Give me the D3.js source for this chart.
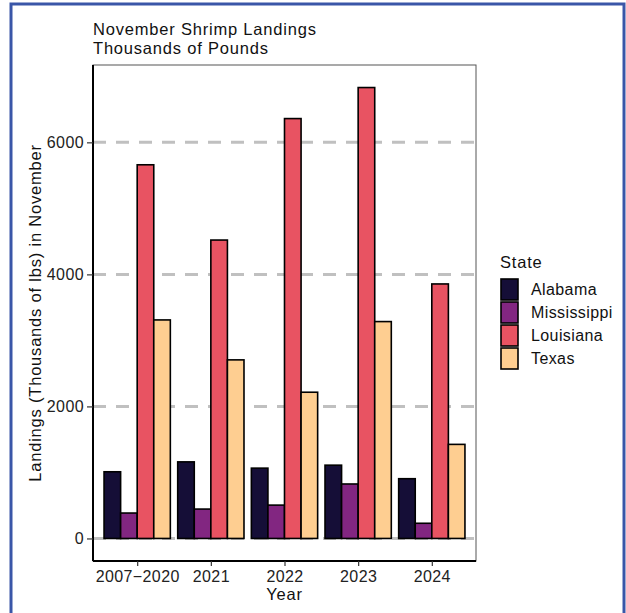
<!DOCTYPE html>
<html>
<head>
<meta charset="utf-8">
<script src="https://cdn.jsdelivr.net/npm/d3@7"></script>
<style>
  body { margin: 0; background: #fff; }
  svg text { font-family: "Liberation Sans", Arial, sans-serif; }
</style>
</head>
<body>
<svg id="chart" width="626" height="613"></svg>
<script>
const years = ["2007\u22122020", "2021", "2022", "2023", "2024"];
const states = ["Alabama", "Mississippi", "Louisiana", "Texas"];
const alabama = [1010, 1160, 1065, 1110, 905];
const mississippi = [385, 445, 505, 825, 230];
const louisiana = [5660, 4520, 6360, 6830, 3855];
const texas = [3310, 2705, 2215, 3285, 1425];
const colors = ["#150E37", "#822681", "#E85362", "#FECE91"];
const yTicks = [0, 2000, 4000, 6000];

const series = [alabama, mississippi, louisiana, texas];
const rows = [];
years.forEach((y, i) => states.forEach((s, j) => rows.push({year: y, state: s, value: series[j][i]})));

const svg = d3.select("#chart");
const panel = {left: 93, right: 476, top: 65, bottom: 561};

// blue frame
svg.append("rect")
    .attr("x", 11).attr("y", 4)
    .attr("width", 613).attr("height", 640)
    .attr("fill", "none")
    .attr("stroke", "#3A56A8")
    .attr("stroke-width", 3);

// scales (ggplot-like expansion)
const step = (panel.right - panel.left) / (years.length - 1 + 1.2);
const x = d3.scalePoint()
    .domain(years)
    .range([panel.left + 0.6 * step, panel.right - 0.6 * step]);
const groupW = step * 0.9;
const xs = d3.scaleBand()
    .domain(states)
    .range([-groupW / 2, groupW / 2]);

const ymax = d3.max(rows, d => d.value);
const y = d3.scaleLinear()
    .domain([-0.05 * ymax, ymax * 1.05])
    .range([panel.bottom, panel.top]);

// panel border
svg.append("rect")
    .attr("x", panel.left).attr("y", panel.top)
    .attr("width", panel.right - panel.left)
    .attr("height", panel.bottom - panel.top)
    .attr("fill", "none")
    .attr("stroke", "#555")
    .attr("stroke-width", 1);

// grid
svg.append("g")
    .selectAll("line")
    .data(yTicks)
    .enter().append("line")
    .attr("x1", panel.left).attr("x2", panel.right)
    .attr("y1", d => y(d)).attr("y2", d => y(d))
    .attr("stroke", "#c0c0c0")
    .attr("stroke-width", 3)
    .attr("stroke-dasharray", "13,10");

// bars
svg.append("g")
    .selectAll("rect")
    .data(rows)
    .enter().append("rect")
    .attr("x", d => x(d.year) + xs(d.state))
    .attr("y", d => y(d.value))
    .attr("width", xs.bandwidth())
    .attr("height", d => y(0) - y(d.value))
    .attr("fill", d => colors[states.indexOf(d.state)])
    .attr("stroke", "#000")
    .attr("stroke-width", 1.6);

// axes
const yAxis = svg.append("g")
    .attr("transform", "translate(" + panel.left + ",0)")
    .call(d3.axisLeft(y).tickValues(yTicks).tickSize(6).tickPadding(3).tickFormat(d3.format("d")));
const xAxis = svg.append("g")
    .attr("transform", "translate(0," + panel.bottom + ")")
    .call(d3.axisBottom(x).tickSize(5).tickPadding(5));
[yAxis, xAxis].forEach(a => {
    a.select(".domain").attr("stroke", "#000").attr("stroke-width", 2);
    a.selectAll(".tick line").attr("stroke", "#333").attr("stroke-width", 1.2);
    a.selectAll(".tick text").attr("fill", "#222")
        .style("font-size", "16px").style("letter-spacing", "0.4px");
});
yAxis.select(".domain").attr("d", "M0," + panel.top + "V" + panel.bottom);
xAxis.select(".domain").attr("d", "M" + panel.left + ",0H" + panel.right);

// titles
const big = sel => sel.style("font-size", "16.5px").style("letter-spacing", "0.8px").attr("fill", "#111");
svg.append("text").attr("x", panel.left).attr("y", 35)
    .call(big).text("November Shrimp Landings");
svg.append("text").attr("x", panel.left).attr("y", 54)
    .call(big).text("Thousands of Pounds");
svg.append("text").attr("x", (panel.left + panel.right) / 2).attr("y", 600)
    .attr("text-anchor", "middle")
    .call(big).text("Year");
svg.append("text")
    .attr("transform", "translate(41," + (panel.top + panel.bottom) / 2 + ") rotate(-90)")
    .attr("text-anchor", "middle")
    .call(big).text("Landings (Thousands of lbs) in November");

// legend
const legend = svg.append("g").attr("transform", "translate(500,262)");
legend.append("text").attr("x", 0).attr("y", 6)
    .call(big).text("State");
const key = legend.selectAll("g.key")
    .data(states)
    .enter().append("g")
    .attr("class", "key")
    .attr("transform", (d, i) => "translate(0," + (16 + i * 23) + ")");
key.append("rect")
    .attr("x", 1).attr("y", 1)
    .attr("width", 17).attr("height", 21)
    .attr("fill", (d, i) => colors[i])
    .attr("stroke", "#000")
    .attr("stroke-width", 1.6);
key.append("text")
    .attr("x", 31).attr("y", 17)
    .style("font-size", "16px").style("letter-spacing", "0.4px").attr("fill", "#111")
    .text(d => d);
</script>
</body>
</html>
